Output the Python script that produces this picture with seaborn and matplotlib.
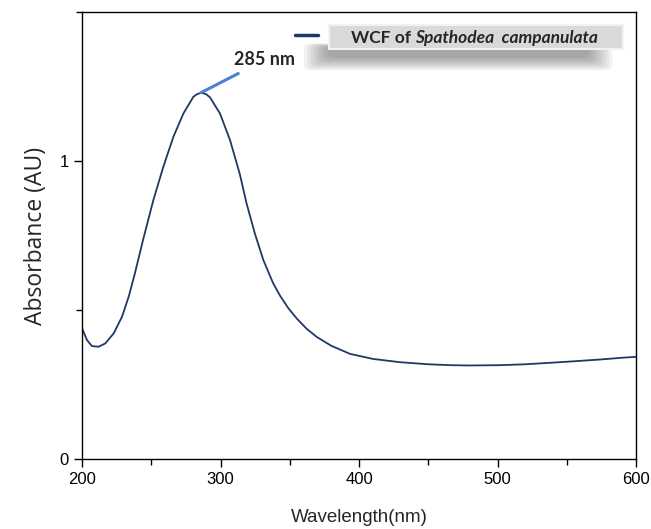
import matplotlib
matplotlib.use("Agg")
import matplotlib.pyplot as plt
import seaborn as sns
import pandas as pd
from matplotlib.patches import FancyBboxPatch, Rectangle
from matplotlib.ticker import MultipleLocator

# UV-Vis spectrum
wavelength = [200, 203.6, 207.2, 212, 216.8, 222.9, 228.9, 233.7, 238, 244.3,
              251.5, 258.7, 266, 273.2, 280.4, 283.5, 286.4, 289.5, 292.4, 299.6,
              306.9, 314, 318.8, 324.8, 330.9, 338, 343, 349, 355, 362,
              369.4, 380, 393.5, 410, 429.6, 450, 465.7, 480, 501.8, 520,
              537.9, 555, 574, 590, 600]
absorbance = [0.439, 0.399, 0.379, 0.377, 0.388, 0.422, 0.478, 0.545, 0.62, 0.74,
              0.869, 0.981, 1.082, 1.16, 1.216, 1.226, 1.229, 1.225, 1.214, 1.16,
              1.07, 0.955, 0.858, 0.757, 0.668, 0.59, 0.548, 0.506, 0.472, 0.438,
              0.41, 0.38, 0.353, 0.336, 0.325, 0.318, 0.315, 0.314, 0.315, 0.318,
              0.323, 0.328, 0.334, 0.34, 0.343]

peak_label = "285 nm"
series_name = "WCF of "
series_species = "Spathodea  campanulata"

line_color = "#1f3864"
df = pd.DataFrame({"Wavelength": wavelength, "Absorbance": absorbance})

sns.set_style("white")
plt.rcParams["font.family"] = ["Liberation Sans", "DejaVu Sans"]

fig = plt.figure(figsize=(6.51, 5.29), dpi=100)
ax = fig.add_axes([0.126, 0.1323, 0.851, 0.8447])
sns.lineplot(data=df, x="Wavelength", y="Absorbance", ax=ax, color=line_color,
             linewidth=1.3, legend=False)

ax.set_xlim(200, 600)
ax.set_ylim(0, 1.5)
ax.xaxis.set_major_locator(MultipleLocator(100))
ax.xaxis.set_minor_locator(MultipleLocator(50))
ax.yaxis.set_major_locator(MultipleLocator(1))
ax.yaxis.set_minor_locator(MultipleLocator(0.5))
ax.tick_params(which="both", direction="out", bottom=True, left=True,
               top=False, right=False, labelsize=12, colors="black")
ax.tick_params(which="major", length=6, width=1)
ax.tick_params(which="minor", length=4, width=1)
for sp in ax.spines.values():
    sp.set_color("black")
    sp.set_linewidth(1)
ax.set_xlabel("Wavelength(nm)", fontsize=13.5, labelpad=16)
ax.set_ylabel("Absorbance (AU)", fontsize=16.5, family=["Open Sans", "DejaVu Sans"],
              labelpad=8)

# peak annotation
ax.annotate(peak_label, xy=(286, 1.23), xytext=(310, 1.34),
            fontsize=13, fontweight="bold", family=["Lato", "DejaVu Sans"],
            ha="left", va="center",
            arrowprops=dict(arrowstyle="-", color="#4a7fd4", lw=2.2,
                            shrinkA=3, shrinkB=0))

# legend-like label with blurred drop shadow
for i in range(8):
    ax.add_patch(FancyBboxPatch((0.405 + 0.006 * i, 0.874 + 0.004 * i),
                                0.548 - 0.012 * i, 0.052 - 0.005 * i,
                                boxstyle="round,pad=0.004,rounding_size=0.012",
                                transform=ax.transAxes, facecolor="#333333",
                                edgecolor="none", alpha=0.065, zorder=5,
                                clip_on=False))
ax.add_patch(Rectangle((0.446, 0.917), 0.531, 0.054, transform=ax.transAxes,
                       facecolor="#d9d9d9", edgecolor="#f2f2f2", lw=1.5,
                       zorder=6, clip_on=False))
ax.plot([0.384, 0.426], [0.9485, 0.9485], color=line_color, lw=2.5,
        transform=ax.transAxes, clip_on=False, zorder=6)
t1 = ax.text(0.4856, 0.943, series_name, fontsize=12.5, fontweight="bold",
             family=["Lato", "DejaVu Sans"], va="center", ha="left",
             transform=ax.transAxes, zorder=7)
ax.annotate(series_species, xy=(1, 0.5), xycoords=t1, va="center", ha="left",
            fontsize=12.5, fontweight="bold", fontstyle="italic",
            family=["Lato", "DejaVu Sans"], annotation_clip=False, zorder=7)

fig.savefig("out.png", dpi=100)
